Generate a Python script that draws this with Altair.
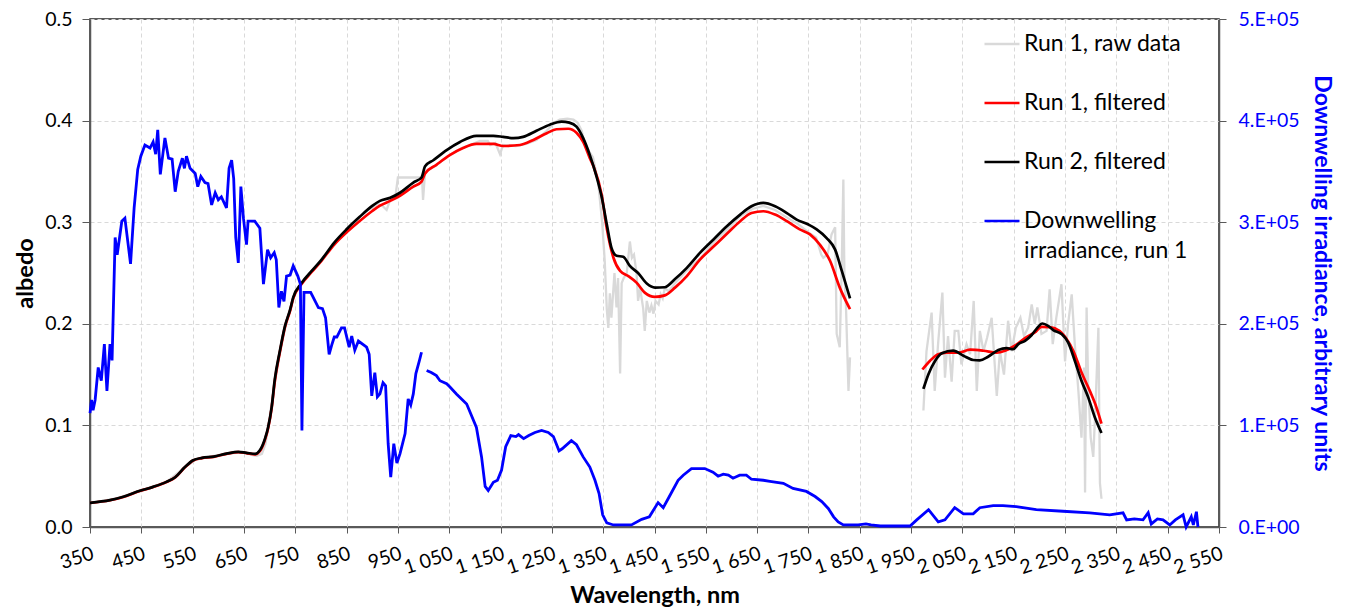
import altair as alt
import pandas as pd

# ---------------- data ----------------
series_names = ["Run 1, raw data", "Run 1, filtered", "Run 2, filtered",
                "Downwelling irradiance, run 1"]
series_colors = ["#D9D9D9", "#FF0000", "#000000", "#0000FF"]

x_ticks = list(range(350, 2551, 100))
y_ticks = [0.0, 0.1, 0.2, 0.3, 0.4, 0.5]
y2_ticks = [0, 100000, 200000, 300000, 400000, 500000]

# Run 1, raw data (albedo)
raw_wl_a = [350, 400, 450, 500, 535, 555, 580, 620, 650, 665, 675, 685, 692, 700, 710, 720, 735, 750, 780, 820,
            860, 890, 900, 910, 920, 928, 935, 945, 950, 970, 990, 997, 999, 1003, 1010, 1025, 1050, 1075, 1100,
            1110, 1125, 1130, 1140, 1149, 1155, 1180, 1200, 1220, 1240, 1255, 1265, 1280, 1292, 1300, 1308, 1315,
            1322, 1330, 1340, 1348, 1353, 1357, 1360, 1363, 1366, 1372, 1376, 1379, 1383, 1386, 1390, 1396, 1402,
            1406, 1410, 1415, 1418, 1422, 1428, 1431, 1435, 1440, 1444, 1448, 1452, 1458, 1462, 1466, 1470, 1478,
            1490, 1510, 1540, 1565, 1590, 1615, 1640, 1662, 1685, 1710, 1730, 1750, 1765, 1775, 1779, 1787, 1795,
            1802, 1805, 1811, 1815, 1818, 1820, 1823, 1828, 1831]
raw_val_a = [0.0238, 0.028, 0.0358, 0.0446, 0.059, 0.066, 0.069, 0.0724, 0.0735, 0.071, 0.070, 0.072, 0.082,
             0.108, 0.142, 0.172, 0.207, 0.232, 0.251, 0.275, 0.298, 0.312, 0.314, 0.318, 0.316, 0.312, 0.322,
             0.325, 0.344, 0.344, 0.344, 0.344, 0.322, 0.350, 0.352, 0.356, 0.366, 0.373, 0.378, 0.380, 0.380,
             0.376, 0.378, 0.367, 0.376, 0.375, 0.377, 0.381, 0.390, 0.398, 0.401, 0.402, 0.401, 0.398, 0.390,
             0.376, 0.370, 0.364, 0.340, 0.300, 0.262, 0.215, 0.196, 0.230, 0.206, 0.250, 0.216, 0.245, 0.151,
             0.240, 0.245, 0.250, 0.281, 0.265, 0.268, 0.250, 0.2225, 0.235, 0.215, 0.193, 0.2225, 0.211, 0.218,
             0.210, 0.2225, 0.219, 0.229, 0.225, 0.235, 0.232, 0.240, 0.251, 0.265, 0.280, 0.292, 0.305, 0.313,
             0.316, 0.312, 0.304, 0.298, 0.290, 0.285, 0.268, 0.265, 0.268, 0.288, 0.295, 0.190, 0.177, 0.260,
             0.342, 0.250, 0.219, 0.134, 0.167]
raw_wl_b = [1974, 1980, 1990, 1996, 2003, 2011, 2016, 2022, 2029, 2035, 2042, 2048, 2058, 2065, 2072, 2078, 2084,
            2091, 2098, 2107, 2117, 2123, 2131, 2139, 2146, 2154, 2163, 2170, 2178, 2185, 2191, 2196, 2204, 2214,
            2220, 2226, 2233, 2243, 2250, 2256, 2263, 2269, 2276, 2282, 2287, 2289, 2292, 2295, 2300, 2305, 2310,
            2315, 2318, 2321]
raw_val_b = [0.1147, 0.173, 0.211, 0.134, 0.183, 0.2307, 0.147, 0.188, 0.143, 0.193, 0.193, 0.160, 0.180, 0.170,
             0.2225, 0.134, 0.193, 0.173, 0.186, 0.206, 0.129, 0.173, 0.150, 0.203, 0.173, 0.196, 0.206, 0.188,
             0.196, 0.219, 0.200, 0.216, 0.190, 0.193, 0.234, 0.180, 0.206, 0.2389, 0.163, 0.200, 0.229, 0.180,
             0.134, 0.088, 0.157, 0.034, 0.216, 0.141, 0.088, 0.069, 0.127, 0.196, 0.043, 0.0278]

# Run 1, filtered (albedo)
r1_wl_a = [350, 389, 415, 447, 473, 499, 516, 535, 551, 568, 591, 616, 639, 655, 672, 681, 691, 697, 704, 710,
           720, 730, 740, 746, 762, 782, 801, 826, 850, 875, 900, 915, 935, 954, 980, 996, 1003, 1025, 1051, 1077,
           1103, 1136, 1155, 1188, 1214, 1240, 1259, 1282, 1298, 1311, 1324, 1331, 1347, 1357, 1370, 1383, 1399,
           1415, 1431, 1451, 1470, 1490, 1513, 1539, 1565, 1591, 1617, 1639, 1662, 1685, 1708, 1733, 1753, 1772,
           1792, 1811, 1831]
r1_val_a = [0.0236, 0.0263, 0.0295, 0.0354, 0.0393, 0.0442, 0.0488, 0.0588, 0.0655, 0.0678, 0.0691, 0.0720,
            0.0737, 0.0727, 0.0715, 0.0745, 0.0860, 0.0970, 0.117, 0.143, 0.172, 0.197, 0.213, 0.225, 0.239,
            0.251, 0.262, 0.278, 0.290, 0.301, 0.311, 0.3163, 0.321, 0.326, 0.335, 0.340, 0.348, 0.3565, 0.366,
            0.373, 0.377, 0.377, 0.375, 0.376, 0.381, 0.3876, 0.3915, 0.392, 0.388, 0.379, 0.363, 0.355, 0.327,
            0.294, 0.265, 0.252, 0.247, 0.2405, 0.2307, 0.2265, 0.228, 0.2356, 0.247, 0.2634, 0.276, 0.2886,
            0.301, 0.309, 0.3108, 0.3075, 0.301, 0.293, 0.288, 0.278, 0.262, 0.2356, 0.2144]
r1_wl_b = [1972, 1987, 2003, 2019, 2042, 2065, 2091, 2117, 2133, 2152, 2172, 2191, 2204, 2220, 2239, 2253, 2266,
           2282, 2298, 2311, 2321]
r1_val_b = [0.155, 0.1637, 0.170, 0.1716, 0.1716, 0.1745, 0.1735, 0.1716, 0.1735, 0.1784, 0.186, 0.1915, 0.197,
            0.1967, 0.1931, 0.185, 0.1735, 0.1523, 0.1343, 0.118, 0.1017]

# Run 2, filtered (albedo)
r2_wl_a = [350, 389, 415, 447, 473, 499, 516, 535, 551, 568, 591, 616, 639, 655, 672, 681, 691, 697, 704, 710,
           720, 730, 740, 746, 762, 782, 801, 826, 850, 875, 900, 915, 935, 954, 980, 996, 1003, 1019, 1045, 1071,
           1103, 1136, 1155, 1175, 1194, 1220, 1246, 1269, 1284, 1298, 1311, 1324, 1337, 1347, 1357, 1366, 1376,
           1389, 1402, 1418, 1435, 1451, 1470, 1490, 1513, 1539, 1565, 1591, 1617, 1639, 1662, 1685, 1708, 1727,
           1750, 1766, 1785, 1802, 1815, 1831]
r2_val_a = [0.0238, 0.0265, 0.0297, 0.0356, 0.0395, 0.0444, 0.049, 0.059, 0.0657, 0.068, 0.0693, 0.0722, 0.074,
            0.073, 0.072, 0.0755, 0.087, 0.098, 0.118, 0.145, 0.1735, 0.198, 0.214, 0.226, 0.240, 0.252, 0.263,
            0.280, 0.293, 0.305, 0.316, 0.321, 0.324, 0.329, 0.339, 0.344, 0.355, 0.361, 0.371, 0.379, 0.385,
            0.385, 0.384, 0.3827, 0.384, 0.390, 0.396, 0.399, 0.398, 0.394, 0.3827, 0.366, 0.345, 0.325, 0.298,
            0.275, 0.267, 0.266, 0.257, 0.250, 0.2396, 0.2356, 0.236, 0.244, 0.255, 0.270, 0.283, 0.296, 0.3075,
            0.3157, 0.319, 0.3157, 0.309, 0.3026, 0.2977, 0.293, 0.2846, 0.273, 0.252, 0.225]
r2_wl_b = [1974, 1984, 1997, 2010, 2032, 2052, 2071, 2084, 2100, 2120, 2136, 2149, 2159, 2172, 2185, 2194, 2206,
           2217, 2227, 2243, 2256, 2269, 2282, 2295, 2308, 2321]
r2_val_b = [0.136, 0.1507, 0.1637, 0.171, 0.1735, 0.1686, 0.1644, 0.164, 0.1676, 0.1742, 0.176, 0.175, 0.180,
            0.1833, 0.189, 0.1948, 0.2003, 0.198, 0.1938, 0.190, 0.1817, 0.1637, 0.144, 0.1278, 0.108, 0.0925]

# Downwelling irradiance, run 1 (units of 1E+05)
irr_wl_a = [350, 353, 356, 360, 366, 372, 378, 383, 389, 393, 399, 403, 412, 418, 429, 436, 443, 449, 457, 467,
            473, 478, 482, 487, 496, 503, 510, 516, 522, 530, 534, 538, 545, 555, 560, 566, 574, 580, 587, 594,
            600, 606, 616, 621, 626, 630, 634, 639, 644, 649, 655, 658, 671, 681, 688, 696, 702, 709, 713, 718,
            723, 728, 733, 740, 746, 755, 760, 763, 767, 772, 780, 785, 795, 803, 809, 816, 821, 826, 831, 840,
            846, 855, 860, 866, 873, 889, 894, 899, 905, 910, 915, 921, 926, 931, 936, 942, 948, 954, 964, 970,
            975, 980, 985, 992, 996]
irr_e5_a = [1.12, 1.25, 1.15, 1.25, 1.57, 1.44, 1.80, 1.34, 1.80, 1.64, 2.85, 2.68, 3.01, 3.04, 2.59, 3.14, 3.52,
            3.65, 3.76, 3.73, 3.79, 3.67, 3.91, 3.47, 3.83, 3.63, 3.62, 3.30, 3.50, 3.63, 3.53, 3.65, 3.53, 3.48,
            3.35, 3.45, 3.39, 3.38, 3.17, 3.29, 3.22, 3.25, 3.14, 3.53, 3.61, 3.43, 2.85, 2.60, 3.35, 3.04, 2.78,
            3.01, 3.01, 2.94, 2.39, 2.73, 2.65, 2.70, 2.63, 2.16, 2.32, 2.22, 2.47, 2.48, 2.57, 2.47, 2.39, 0.95,
            2.31, 2.31, 2.31, 2.26, 2.16, 2.15, 2.06, 1.70, 1.79, 1.87, 1.87, 1.96, 1.96, 1.77, 1.88, 1.74, 1.83,
            1.77, 1.70, 1.29, 1.52, 1.28, 1.31, 1.42, 1.39, 0.82, 0.49, 0.82, 0.63, 0.72, 0.92, 1.26, 1.20, 1.31,
            1.51, 1.64, 1.72]
irr_wl_b = [1006, 1015, 1025, 1032, 1045, 1051, 1064, 1084, 1103, 1113, 1120, 1126, 1136, 1144, 1152, 1160, 1170,
            1180, 1185, 1195, 1205, 1217, 1230, 1243, 1253, 1264, 1270, 1288, 1298, 1311, 1324, 1334, 1342, 1349,
            1357, 1370, 1405, 1425, 1440, 1457, 1467, 1480, 1496, 1506, 1522, 1548, 1564, 1574, 1584, 1594, 1603,
            1616, 1629, 1639, 1662, 1675, 1701, 1720, 1746, 1763, 1776, 1789, 1799, 1808, 1818, 1847, 1862, 1872,
            1890, 1948, 1961, 1984, 2003, 2016, 2035, 2052, 2071, 2084, 2110, 2129, 2155, 2194, 2246, 2298, 2337,
            2363, 2370, 2385, 2402, 2412, 2418, 2430, 2441, 2454, 2465, 2480, 2486, 2496, 2500, 2506, 2509]
irr_e5_b = [1.54, 1.52, 1.49, 1.44, 1.41, 1.38, 1.31, 1.21, 0.98, 0.69, 0.40, 0.36, 0.44, 0.46, 0.56, 0.79, 0.90,
            0.89, 0.91, 0.87, 0.90, 0.93, 0.95, 0.93, 0.89, 0.75, 0.77, 0.85, 0.81, 0.69, 0.59, 0.46, 0.33, 0.12,
            0.04, 0.02, 0.02, 0.075, 0.10, 0.24, 0.19, 0.31, 0.46, 0.51, 0.575, 0.575, 0.54, 0.50, 0.52, 0.51,
            0.48, 0.51, 0.51, 0.47, 0.46, 0.45, 0.43, 0.38, 0.35, 0.30, 0.25, 0.18, 0.10, 0.05, 0.02, 0.02, 0.03,
            0.02, 0.01, 0.01, 0.07, 0.17, 0.05, 0.07, 0.19, 0.13, 0.13, 0.19, 0.21, 0.21, 0.20, 0.17, 0.155, 0.14,
            0.12, 0.14, 0.07, 0.08, 0.07, 0.14, 0.03, 0.08, 0.07, 0.02, 0.07, 0.12, 0.00, 0.10, 0.02, 0.15, 0.00]


def frame(series, parts, scale=1.0):
    rows = []
    for seg, (wl, val) in enumerate(parts):
        for w, v in zip(wl, val, strict=True):
            rows.append({"wl": w, "v": v * scale, "series": series, "seg": f"{series}-{seg}"})
    return pd.DataFrame(rows)


df_raw = frame(series_names[0], [(raw_wl_a, raw_val_a), (raw_wl_b, raw_val_b)])
df_r1 = frame(series_names[1], [(r1_wl_a, r1_val_a), (r1_wl_b, r1_val_b)])
df_r2 = frame(series_names[2], [(r2_wl_a, r2_val_a), (r2_wl_b, r2_val_b)])
df_irr = frame(series_names[3], [(irr_wl_a, irr_e5_a), (irr_wl_b, irr_e5_b)], scale=1e5)

FONT = "Lato"
AXIS_COL = "#595959"

x_enc = alt.X(
    "wl:Q",
    scale=alt.Scale(domain=[350, 2550], nice=False, zero=False),
    axis=alt.Axis(
        values=x_ticks, title="Wavelength, nm", labelAngle=-18, labelAlign="right",
        labelBaseline="top", labelExpr="replace(format(datum.value, ','), ',', ' ')",
        labelFontSize=19.5, labelColor="#000000", labelPadding=11, labelOverlap=False,
        labelFlush=False, tickSize=6, tickColor=AXIS_COL, domainColor=AXIS_COL,
        domainWidth=1.5, grid=True, gridColor="#D9D9D9", gridDash=[4, 3],
        titleFontSize=23.5, titleFontWeight="bold", titleColor="#000000", titlePadding=6,
    ),
)

y_enc = alt.Y(
    "v:Q",
    scale=alt.Scale(domain=[0, 0.5], nice=False, zero=True),
    axis=alt.Axis(
        values=y_ticks, format=".1f", title="albedo", labelFontSize=19.5, labelColor="#000000",
        labelPadding=10, tickSize=8, tickColor=AXIS_COL, domainColor=AXIS_COL, domainWidth=1.5,
        grid=True, gridColor="#D9D9D9", gridDash=[4, 3], titleFontSize=23.5,
        titleFontWeight="bold", titleColor="#000000", titlePadding=7,
    ),
)

y2_enc = alt.Y(
    "v:Q",
    scale=alt.Scale(domain=[0, 500000], nice=False, zero=True),
    axis=alt.Axis(
        orient="right", values=y2_ticks,
        labelExpr="datum.value == 0 ? '0.E+00' : format(datum.value / 100000, 'd') + '.E+05'",
        title="Downwelling irradiance, arbitrary units", labelFontSize=19.5, labelColor="#0000FF",
        labelPadding=12, tickSize=7, tickColor=AXIS_COL, domainColor=AXIS_COL, domainWidth=1.5,
        grid=False, titleFontSize=23, titleFontWeight="bold", titleColor="#0000FF", titlePadding=10,
    ),
)

color_enc = alt.Color(
    "series:N",
    scale=alt.Scale(domain=series_names, range=series_colors),
    legend=alt.Legend(
        title=None, orient="none", legendX=893, legendY=6, symbolType="stroke",
        symbolSize=1225, symbolStrokeWidth=2.6, labelFontSize=23, labelColor="#000000",
        labelFont=FONT, labelOffset=3, rowPadding=28, labelLimit=400, padding=0,
        labelExpr="datum.label == 'Downwelling irradiance, run 1' ? ['Downwelling', 'irradiance, run 1'] : datum.label",
    ),
)

raw_layer = alt.Chart(df_raw).mark_line(strokeWidth=2.3).encode(
    x=x_enc, y=y_enc, color=color_enc, detail="seg:N")
r1_layer = alt.Chart(df_r1).mark_line(strokeWidth=2.7, interpolate="monotone").encode(
    x=x_enc, y=y_enc, color=color_enc, detail="seg:N")
r2_layer = alt.Chart(df_r2).mark_line(strokeWidth=2.7, interpolate="monotone").encode(
    x=x_enc, y=y_enc, color=color_enc, detail="seg:N")
irr_layer = alt.Chart(df_irr).mark_line(strokeWidth=2.8).encode(
    x=x_enc, y=y2_enc, color=color_enc, detail="seg:N")

albedo = alt.layer(raw_layer, r1_layer, r2_layer)

chart = (
    alt.layer(albedo, irr_layer)
    .resolve_scale(y="independent")
    .properties(
        width=1129, height=508,
        padding={"left": 82, "top": 11, "right": 118, "bottom": 84},
        autosize=alt.AutoSizeParams(type="none"),
    )
    .configure(font=FONT, style={"guide-label": {"lineHeight": 30}})
    .configure_view(stroke="#262626", strokeWidth=1.5)
)

chart.save("out.html", embed_options={"renderer": "svg", "actions": False})
